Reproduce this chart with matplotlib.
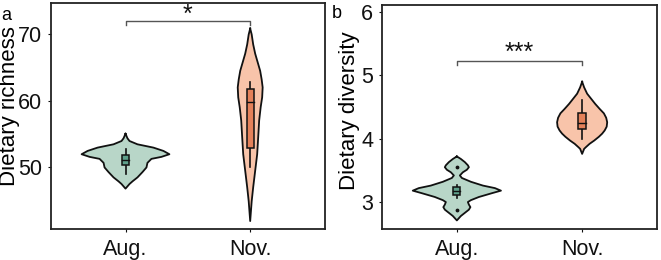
import numpy as np
import matplotlib
matplotlib.use("Agg")
import matplotlib.pyplot as plt

plt.rcParams["font.family"] = ["Liberation Sans", "DejaVu Sans"]

groups = ["Aug.", "Nov."]

# violin outlines: (value, half width in px)
rich_aug_y = [55.0, 54.3, 53.9, 53.4, 52.9, 52.4, 51.9, 51.5, 51.2, 50.6, 49.9, 49.2, 48.4, 47.8, 47.4, 46.7]
rich_aug_w = [0, 2, 4, 12, 28, 38, 44, 36, 26, 22, 21, 17, 12, 7, 4, 0]
rich_nov_y = [70.9, 70.0, 68.5, 67.1, 65.8, 64.5, 63.2, 62.0, 60.5, 59.0, 57.0, 54.4, 51.9, 49.4, 46.9, 44.8, 41.8]
rich_nov_w = [0, 1.5, 3, 5, 7.5, 10, 11.5, 12.5, 12, 10.5, 9, 8, 7, 5, 3, 1.5, 0]

div_aug_y = [3.72, 3.68, 3.63, 3.58, 3.55, 3.51, 3.47, 3.42, 3.38, 3.32, 3.26, 3.22, 3.18, 3.14,
             3.08, 3.03, 3.00, 2.96, 2.92, 2.88, 2.83, 2.78, 2.71]
div_aug_w = [0, 4, 8, 11, 12, 10, 6, 3, 5, 14, 26, 38, 44, 35, 22, 14, 11, 12, 13.5, 12, 8, 4, 0]
div_nov_y = [4.90, 4.81, 4.71, 4.63, 4.55, 4.47, 4.40, 4.33, 4.26, 4.19, 4.13, 4.08, 4.03, 3.97,
             3.92, 3.87, 3.84, 3.76]
div_nov_w = [0, 2, 5, 9, 13, 17.5, 21.7, 24, 25, 24.5, 22.5, 20, 16.7, 12, 7.5, 4, 2, 0]

# box stats: whisker low, q1, median, q3, whisker high
rich_aug_box = [48.9, 50.3, 51.0, 51.8, 52.7]
rich_nov_box = [49.9, 52.8, 59.8, 61.8, 62.8]
div_aug_box = [3.06, 3.11, 3.17, 3.24, 3.27]
div_nov_box = [4.00, 4.16, 4.24, 4.41, 4.61]
div_aug_out = [3.55, 2.88]

violin_cols = ["#b8d6c8", "#f8c4aa"]
box_cols = ["#5e9f8a", "#e4815a"]
PX = 125.0  # px per x unit


def draw_violin(ax, x, ys, ws, fc):
    ys = np.array(ys)
    ws = np.array(ws) / PX
    ax.fill_betweenx(ys, x - ws, x + ws, facecolor=fc, edgecolor="none", zorder=2)
    xx = np.concatenate([x - ws, (x + ws)[::-1]])
    yy = np.concatenate([ys, ys[::-1]])
    ax.plot(xx, yy, color="#111111", lw=1.3, zorder=3, solid_joinstyle="round")


def draw_box(ax, x, stats, fc, hw=3.5 / PX):
    lo, q1, med, q3, hi = stats
    ax.plot([x, x], [lo, hi], color="#111111", lw=1.2, zorder=4)
    ax.add_patch(plt.Rectangle((x - hw, q1), 2 * hw, q3 - q1, facecolor=fc,
                               edgecolor="#111111", lw=1.1, zorder=5))
    ax.plot([x - hw, x + hw], [med, med], color="#111111", lw=1.0, zorder=6)


def style(ax, ylim, yticks):
    ax.set_xlim(0.4, 2.6)
    ax.set_ylim(*ylim)
    ax.set_xticks([1, 2])
    ax.set_xticklabels(groups)
    ax.set_yticks(yticks)
    ax.tick_params(axis="both", labelsize=15.5, length=2, width=0.8, colors="#111111")
    ax.tick_params(axis="x", pad=5)
    ax.tick_params(axis="y", pad=4)
    for s in ax.spines.values():
        s.set_linewidth(1.3)
        s.set_color("#222222")


def bracket(ax, y, drop, label, ty):
    ax.plot([1, 1, 2, 2], [y - drop, y, y, y - drop], color="#555555", lw=1.0)
    ax.text(1.5, ty, label, ha="center", va="center", fontsize=18, color="#111111")


fig = plt.figure(figsize=(6.61, 2.6), dpi=100)
ax1 = fig.add_axes([50.7 / 661, 1 - 229 / 260, (325 - 50.7) / 661, (229 - 2.7) / 260])
ax2 = fig.add_axes([381.7 / 661, 1 - 229.3 / 260, (657.3 - 381.7) / 661, (229.3 - 5) / 260])

draw_violin(ax1, 1, rich_aug_y, rich_aug_w, violin_cols[0])
draw_violin(ax1, 2, rich_nov_y, rich_nov_w, violin_cols[1])
draw_box(ax1, 1, rich_aug_box, box_cols[0])
draw_box(ax1, 2, rich_nov_box, box_cols[1])
style(ax1, (40.6, 74.8), [50, 60, 70])
bracket(ax1, 72.0, 0.5, "*", 72.9)

draw_violin(ax2, 1, div_aug_y, div_aug_w, violin_cols[0])
draw_violin(ax2, 2, div_nov_y, div_nov_w, violin_cols[1])
draw_box(ax2, 1, div_aug_box, box_cols[0])
draw_box(ax2, 2, div_nov_box, box_cols[1], hw=3.7 / PX)
ax2.scatter([1] * len(div_aug_out), div_aug_out, s=3, color="#111111", zorder=6)
style(ax2, (2.57, 6.11), [3, 4, 5, 6])
bracket(ax2, 5.23, 0.07, "***", 5.35)

fig.text(10 / 661, 0.592, "Dietary richness", rotation=90, ha="center", va="center", fontsize=16)
fig.text(349 / 661, 0.573, "Dietary diversity", rotation=90, ha="center", va="center", fontsize=16)
fig.text(1 / 661, 1 - 20 / 260, "a", ha="left", va="baseline", fontsize=13)
fig.text(332 / 661, 1 - 18 / 260, "b", ha="left", va="baseline", fontsize=13)

fig.savefig("out.png", dpi=100)
